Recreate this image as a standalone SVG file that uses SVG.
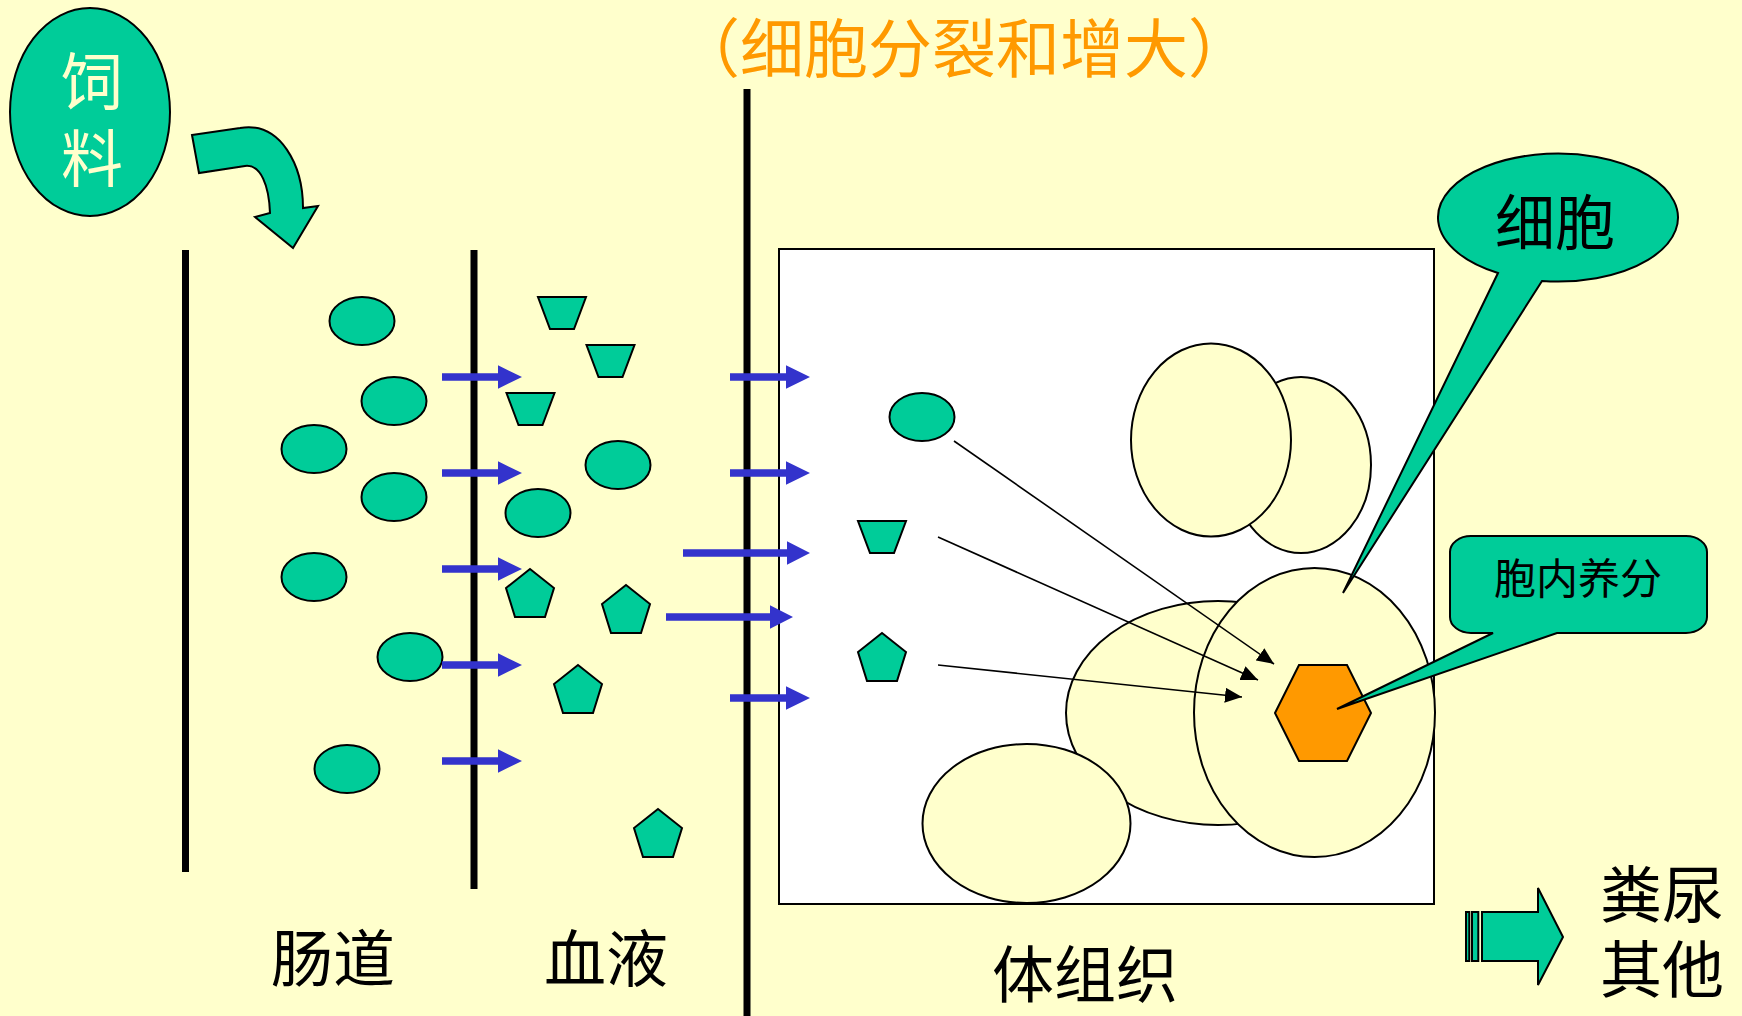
<svg xmlns="http://www.w3.org/2000/svg" width="1742" height="1016" viewBox="0 0 1742 1016">
  <defs>
    <style>
      .cjk { font-family: "Noto Sans CJK SC", "Noto Sans CJK TC", sans-serif; }
      .stack { font-family: "Liberation Sans", "Noto Sans CJK SC", sans-serif; }
      .lbl { font-size: 62px; fill: #000; text-anchor: middle; }
      .grn { fill: #00CC99; stroke: #000; stroke-width: 2; stroke-linejoin: miter; }
      .cell { fill: #FFFFCC; stroke: #000; stroke-width: 2; }
      .wall { stroke: #000; stroke-width: 7; }
      .blue { fill: #3333CC; }
      .thin { stroke: #000; stroke-width: 1.6; fill: none; marker-end: url(#tri); }
    </style>
    <marker id="tri" markerUnits="userSpaceOnUse" markerWidth="18" markerHeight="16" refX="17" refY="7.5" orient="auto">
      <path d="M0,0 L17,7.5 L0,15 Z" fill="#000"/>
    </marker>
    <!-- nutrient particle shapes, centred on 0,0 -->
    <ellipse id="dot" cx="0" cy="0" rx="32.5" ry="24" class="grn"/>
    <polygon id="trap" points="-24,-16 24,-16 12,16 -12,16" class="grn"/>
    <polygon id="pent" points="0,-26 24,-7 15,22 -15,22 -24,-7" class="grn"/>
    <!-- blue transfer arrow, tip at 0,0 -->
    <polygon id="barS" points="-80,-3.7 -24,-3.7 -24,-11.7 0,0 -24,11.7 -24,3.7 -80,3.7" class="blue"/>
    <polygon id="barL" points="-127,-3.7 -23,-3.7 -23,-11.7 0,0 -23,11.7 -23,3.7 -127,3.7" class="blue"/>
  </defs>

  <rect x="0" y="0" width="1742" height="1016" fill="#FFFFCC"/>

  <!-- body tissue frame -->
  <g id="tissue-box">
    <rect x="779" y="249" width="655" height="655" fill="#FFFFFF" stroke="#000" stroke-width="2"/>
  </g>

  <!-- walls: gut / blood / tissue -->
  <g id="walls">
    <line x1="185.5" y1="250" x2="185.5" y2="872" class="wall"/>
    <line x1="474" y1="250" x2="474" y2="889" class="wall"/>
    <line x1="747" y1="89" x2="747" y2="1016" class="wall"/>
  </g>

  <!-- cells inside tissue -->
  <g id="cells">
    <ellipse cx="1301" cy="465" rx="70" ry="88" class="cell"/>
    <ellipse cx="1211" cy="440" rx="80" ry="96.5" class="cell"/>
    <ellipse cx="1218" cy="713" rx="152" ry="112" class="cell"/>
    <ellipse cx="1026.5" cy="823.5" rx="104" ry="79.5" class="cell"/>
    <ellipse id="cell-main" cx="1314.5" cy="712.5" rx="120.5" ry="144.5" class="cell"/>
  </g>
  <g id="nutrient-store">
    <polygon points="1275,713 1299,665 1347,665 1371,713 1347,761 1299,761" fill="#FF9900" stroke="#000" stroke-width="2"/>
  </g>

  <!-- feed -->
  <g id="feed">
    <ellipse cx="90" cy="112" rx="80" ry="104" class="grn"/>
    <text class="stack" font-size="62" fill="#FFFFCC" text-anchor="middle"><tspan x="92" y="105">饲</tspan><tspan x="92" y="182">料</tspan></text>
  </g>
  <g id="feed-arrow">
    <path d="M192,135 L240,128 C281,121 303,166 303,208 L318,206 L293,248 L255,217 L270,213 C269,186 261,164 245,166 L199,173 Z" class="grn"/>
  </g>

  <!-- particles in the gut -->
  <g id="gut-particles">
    <use href="#dot" x="362" y="321"/>
    <use href="#dot" x="394" y="401"/>
    <use href="#dot" x="314" y="449"/>
    <use href="#dot" x="394" y="497"/>
    <use href="#dot" x="314" y="577"/>
    <use href="#dot" x="410" y="657"/>
    <use href="#dot" x="347" y="769"/>
  </g>

  <!-- particles in the blood -->
  <g id="blood-particles">
    <use href="#trap" x="562" y="313"/>
    <use href="#trap" x="610.5" y="361"/>
    <use href="#trap" x="530.5" y="409"/>
    <use href="#dot" x="618" y="465"/>
    <use href="#dot" x="538" y="513"/>
    <use href="#pent" x="530" y="595"/>
    <use href="#pent" x="626" y="611"/>
    <use href="#pent" x="578" y="691"/>
    <use href="#pent" x="658" y="835"/>
  </g>

  <!-- particles reaching the tissue -->
  <g id="tissue-particles">
    <use href="#dot" x="922" y="417"/>
    <use href="#trap" x="882" y="537"/>
    <use href="#pent" x="882" y="659"/>
  </g>

  <!-- connectors -->
  <g id="connectors">
    <line x1="954" y1="441" x2="1274" y2="664" class="thin"/>
    <line x1="938" y1="537" x2="1258" y2="680" class="thin"/>
    <line x1="938" y1="665" x2="1242" y2="697" class="thin"/>

    <use href="#barS" x="522" y="377"/>
    <use href="#barS" x="522" y="473"/>
    <use href="#barS" x="522" y="569"/>
    <use href="#barS" x="522" y="665"/>
    <use href="#barS" x="522" y="761"/>

    <use href="#barS" x="810" y="377"/>
    <use href="#barS" x="810" y="473"/>
    <use href="#barL" x="810" y="553"/>
    <use href="#barL" x="793" y="617"/>
    <use href="#barS" x="810" y="698"/>
  </g>

  <!-- callouts -->
  <g id="callout-cell">
    <path d="M1498,273 A120,64 0 1 1 1542,281 L1343,593 Z" class="grn"/>
    <text x="1555" y="245" class="cjk" font-size="60" fill="#000" text-anchor="middle">细胞</text>
  </g>
  <g id="callout-nutrient">
    <path d="M1471,536 H1686 A21,16 0 0 1 1707,552 V617 A21,16 0 0 1 1686,633 H1557 L1337,709 L1493,633 H1471 A21,16 0 0 1 1450,617 V552 A21,16 0 0 1 1471,536 Z" class="grn"/>
    <text x="1578" y="594" class="cjk" font-size="42" fill="#000" text-anchor="middle">胞内养分</text>
  </g>

  <!-- excretion -->
  <g id="excretion-arrow">
    <rect x="1466" y="912" width="3.3" height="49" class="grn" stroke-width="1.5"/>
    <rect x="1472" y="912" width="6.3" height="49" class="grn" stroke-width="1.5"/>
    <polygon points="1482,912 1538,912 1538,888 1563,937 1538,985 1538,961 1482,961" class="grn" stroke-width="1.5"/>
  </g>

  <!-- labels -->
  <g id="title">
    <text x="964" y="72" class="cjk" font-size="64" fill="#FF9900" text-anchor="middle">（细胞分裂和增大）</text>
  </g>
  <g id="label-gut"><text x="333" y="982" class="cjk lbl">肠道</text></g>
  <g id="label-blood"><text x="606" y="982" class="cjk lbl">血液</text></g>
  <g id="label-tissue"><text x="1085" y="998" class="cjk lbl">体组织</text></g>
  <g id="label-waste">
    <text class="stack lbl"><tspan x="1662" y="918">粪尿</tspan><tspan x="1662" y="993">其他</tspan></text>
  </g>
</svg>
